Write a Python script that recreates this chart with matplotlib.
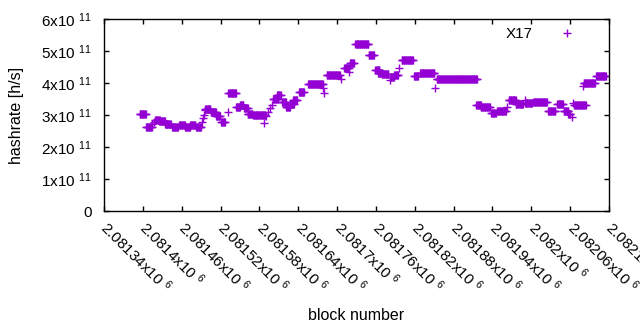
import numpy as np
import matplotlib
matplotlib.use("Agg")
import matplotlib.pyplot as plt

plt.rcParams['font.family'] = ['Liberation Sans', 'DejaVu Sans']
plt.rcParams['mathtext.fontset'] = 'custom'
plt.rcParams['mathtext.rm'] = 'Liberation Sans'
plt.rcParams['mathtext.it'] = 'Liberation Sans'
plt.rcParams['mathtext.default'] = 'regular'

# runs of consecutive blocks sharing one hashrate estimate
# (first block, last block, hashrate in units of 1e11 h/s)
run_first = [2081395, 2081405, 2081414, 2081417, 2081419, 2081425, 2081434, 2081445,
             2081456, 2081465, 2081473, 2081482, 2081491, 2081493, 2081494, 2081496,
             2081496, 2081505, 2081513, 2081521, 2081532, 2081532, 2081544, 2081550,
             2081556, 2081562, 2081570, 2081587, 2081590, 2081593, 2081596, 2081600,
             2081601, 2081607, 2081615, 2081621, 2081627, 2081632, 2081641, 2081655,
             2081678, 2081680, 2081684, 2081706, 2081711, 2081718, 2081720, 2081728,
             2081749, 2081759, 2081763, 2081769, 2081782, 2081783, 2081788, 2081796,
             2081800, 2081819, 2081828, 2081851, 2081854, 2081915, 2081922, 2081938,
             2081947, 2081953, 2081962, 2081965, 2081976, 2081990, 2081990, 2082003,
             2082026, 2082040, 2082050, 2082057, 2082063, 2082064, 2082066, 2082080,
             2082081, 2082100]
run_last = [2081405, 2081414, 2081414, 2081417, 2081426, 2081434, 2081443, 2081454,
            2081465, 2081473, 2081481, 2081490, 2081491, 2081493, 2081494, 2081496,
            2081504, 2081513, 2081519, 2081527, 2081532, 2081544, 2081550, 2081555,
            2081562, 2081569, 2081589, 2081587, 2081590, 2081593, 2081596, 2081600,
            2081609, 2081613, 2081621, 2081627, 2081633, 2081638, 2081649, 2081678,
            2081678, 2081680, 2081704, 2081706, 2081718, 2081718, 2081726, 2081748,
            2081757, 2081765, 2081769, 2081779, 2081782, 2081788, 2081794, 2081796,
            2081817, 2081825, 2081850, 2081851, 2081916, 2081922, 2081936, 2081945,
            2081952, 2081961, 2081962, 2081976, 2081987, 2081990, 2082001, 2082024,
            2082037, 2082049, 2082057, 2082060, 2082063, 2082064, 2082084, 2082080,
            2082098, 2082115]
run_rate = [3.02, 2.61, 2.72, 2.79, 2.84, 2.82, 2.72, 2.62,
            2.69, 2.63, 2.69, 2.63, 2.78, 2.91, 3.00, 3.16,
            3.18, 3.09, 2.97, 2.79, 3.08, 3.68, 3.26, 3.31,
            3.21, 3.03, 3.00, 2.76, 2.97, 3.09, 3.22, 3.31,
            3.49, 3.62, 3.42, 3.26, 3.34, 3.47, 3.71, 3.96,
            3.84, 3.70, 4.25, 4.12, 4.46, 4.35, 4.62, 5.22,
            4.875, 4.41, 4.32, 4.27, 4.09, 4.18, 4.25, 4.46,
            4.71, 4.23, 4.30, 3.83, 4.13, 3.30, 3.26, 3.07,
            3.11, 3.13, 3.26, 3.47, 3.34, 3.47, 3.38, 3.40,
            3.125, 3.33, 3.13, 3.03, 2.95, 3.37, 3.30, 3.91,
            3.99, 4.22]

blocks = []
rates = []
for s, e, v in zip(run_first, run_last, run_rate):
    for b in range(s, e + 1):
        blocks.append(b)
        rates.append(v * 1e11)

x_ticks = [2081340 + 60 * k for k in range(14)]
x_labels = ["%gx10$\\ ^{6}$" % (t / 1e6) for t in x_ticks]
y_ticks = [0, 1e11, 2e11, 3e11, 4e11, 5e11, 6e11]
y_labels = ["0"] + ["%dx10$\\ ^{11}$" % k for k in range(1, 7)]

fig = plt.figure(figsize=(6.4, 3.3), dpi=100)
ax = fig.add_axes([0.1625, 0.3606, 0.7891, 0.5818])
ax.plot(blocks, rates, linestyle='none', marker='+', markersize=6,
        markeredgewidth=1, color='#9400d3', label='X17')

ax.set_xlim(2081340, 2082120)
ax.set_ylim(0, 6e11)
ax.set_xticks(x_ticks)
ax.set_xticklabels(x_labels, rotation=-45, ha='left', va='center',
                   rotation_mode='anchor', fontsize=11)
ax.set_yticks(y_ticks)
ax.set_yticklabels(y_labels, fontsize=11)
ax.tick_params(direction='in', length=3.5, width=1, top=True, right=True)
ax.tick_params(axis='y', pad=9)
ax.tick_params(axis='x', pad=10)
for sp in ax.spines.values():
    sp.set_linewidth(1)

ax.set_xlabel("block number", fontsize=11.5, va='center')
ax.xaxis.set_label_coords(0.5, -0.542)
ax.set_ylabel("hashrate [h/s]", fontsize=11.5, va='center')
ax.yaxis.set_label_coords(-0.174, 0.5)
ax.legend(loc='upper right', bbox_to_anchor=(0.982, 0.99), frameon=False,
          markerfirst=False, numpoints=1, fontsize=11, handlelength=3.5,
          handletextpad=0.48, borderaxespad=0)

fig.savefig("out.png", dpi=100)
